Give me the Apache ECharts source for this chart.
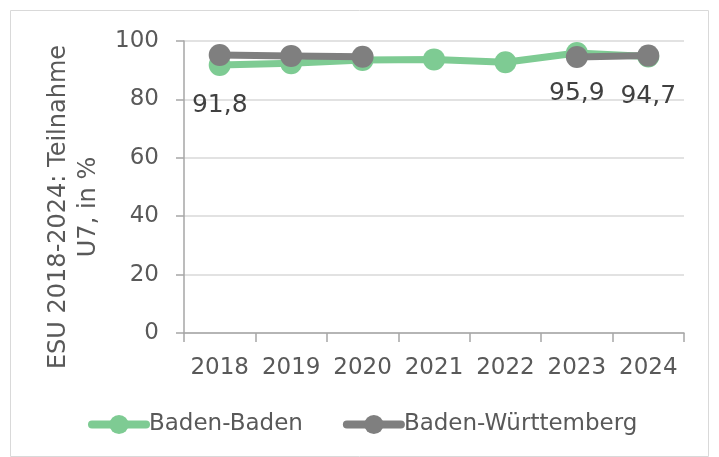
<!DOCTYPE html>
<html>
<head>
<meta charset="utf-8">
<script src="https://cdn.jsdelivr.net/npm/echarts@6/dist/echarts.min.js"></script>
<style>
  html, body { margin: 0; padding: 0; background: #fff; }
  #chart { width: 719px; height: 457px; }
</style>
</head>
<body>
<div id="chart"></div>
<script>
const years = ['2018', '2019', '2020', '2021', '2022', '2023', '2024']
const badenBaden = [91.8, 92.4, 93.5, 93.7, 92.7, 95.9, 94.7]
const badenWuerttemberg = [95.2, 94.9, 94.6, null, null, 94.5, 95.0]
const labelledYears = ['2018', '2023', '2024']

const FONT = '"DejaVu Sans", sans-serif'
const TEXT = '#595959'

const chart = echarts.init(document.getElementById('chart'))

function fmt(v) {
  return String(v.toFixed(1)).replace('.', ',')
}

const option = {
  animation: false,
  textStyle: { fontFamily: FONT },
  graphic: [{
    type: 'rect',
    shape: { x: 10.5, y: 10.5, width: 698, height: 446 },
    style: { fill: 'none', stroke: '#d9d9d9', lineWidth: 1 },
    silent: true
  }],
  grid: { left: 184, right: 35, top: 41, bottom: 124 },
  legend: {
    left: 88,
    top: 413,
    padding: 0,
    itemWidth: 54,
    itemHeight: 24,
    itemGap: 40,
    lineStyle: { width: 8, cap: 'round' },
    textStyle: { fontSize: 23, color: TEXT, fontFamily: FONT, padding: [0, 0, 0, -2] },
    data: ['Baden-Baden', 'Baden-Württemberg']
  },
  xAxis: {
    type: 'category',
    data: years,
    boundaryGap: true,
    axisLine: { lineStyle: { color: '#a6a6a6', width: 1.5 } },
    axisTick: { show: true, interval: 0, length: 9, lineStyle: { color: '#a6a6a6', width: 1.5 } },
    axisLabel: { interval: 0, fontSize: 23, color: TEXT, margin: 24 }
  },
  yAxis: {
    type: 'value',
    min: 0,
    max: 100,
    interval: 20,
    name: 'ESU 2018-2024: Teilnahme\nU7, in %',
    nameLocation: 'middle',
    nameGap: 70,
    nameTextStyle: { fontSize: 24, color: TEXT, lineHeight: 30, fontFamily: FONT, padding: [0, 40, 0, 0] },
    axisLine: { show: true, lineStyle: { color: '#a6a6a6', width: 1.5 } },
    axisTick: { show: true, length: 8, lineStyle: { color: '#a6a6a6', width: 1.5 } },
    axisLabel: { fontSize: 23, color: TEXT, margin: 25 },
    splitLine: { lineStyle: { color: '#d9d9d9', width: 1.5 } }
  },
  series: [
    {
      name: 'Baden-Baden',
      type: 'line',
      data: badenBaden.map((v, i) => ({
        value: v,
        label: { show: labelledYears.includes(years[i]) }
      })),
      color: '#7ecb93',
      lineStyle: { width: 7, color: '#7ecb93' },
      symbol: 'circle',
      symbolSize: 22,
      itemStyle: { color: '#7ecb93' },
      label: {
        position: 'bottom',
        distance: 17,
        fontSize: 25,
        color: '#404040',
        fontFamily: FONT,
        formatter: p => fmt(p.value)
      },
      z: 2
    },
    {
      name: 'Baden-Württemberg',
      type: 'line',
      data: badenWuerttemberg,
      color: '#7f7f7f',
      lineStyle: { width: 7, color: '#7f7f7f' },
      symbol: 'circle',
      symbolSize: 22,
      itemStyle: { color: '#7f7f7f' },
      connectNulls: false,
      z: 3
    }
  ]
}

chart.setOption(option)
</script>
</body>
</html>
